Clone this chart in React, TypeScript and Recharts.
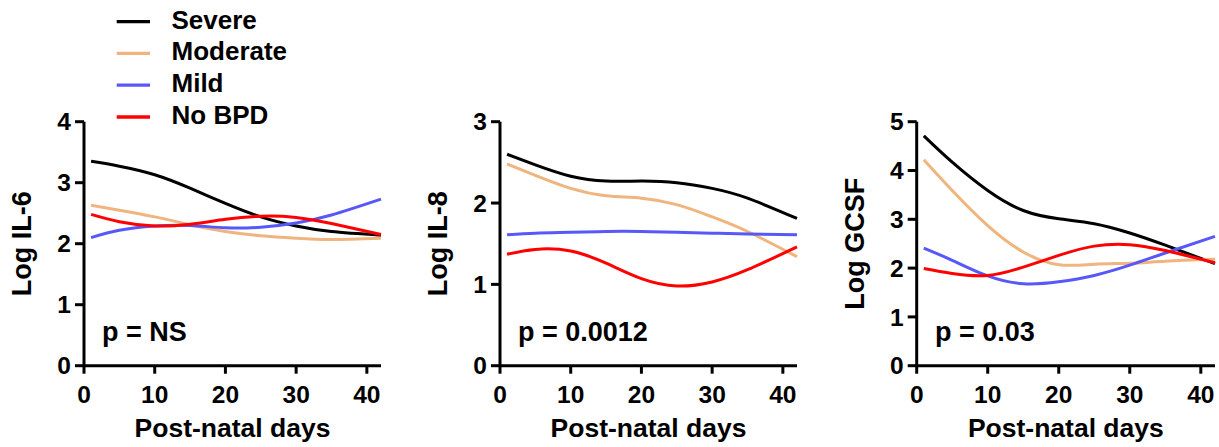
import React from 'react';
import { LineChart, Line, XAxis, YAxis } from 'recharts';

const FONT = '"Liberation Sans", Arial, Helvetica, sans-serif';

// ---- data ----
const days = [1, 5, 10, 15, 20, 25, 30, 35, 42];
const xTicks = [0, 10, 20, 30, 40];
const seriesKeys = ['severe', 'moderate', 'mild', 'nobpd'];
const seriesNames = ['Severe', 'Moderate', 'Mild', 'No BPD'];
const seriesColors = ['#000000', '#F0B47F', '#5858F8', '#FF0000'];

const il6Severe = [3.35, 3.27, 3.13, 2.91, 2.66, 2.44, 2.29, 2.2, 2.14];
const il6Moderate = [2.63, 2.55, 2.44, 2.31, 2.2, 2.13, 2.09, 2.07, 2.09];
const il6Mild = [2.1, 2.22, 2.29, 2.3, 2.26, 2.27, 2.34, 2.47, 2.73];
const il6NoBPD = [2.48, 2.36, 2.29, 2.32, 2.4, 2.45, 2.43, 2.33, 2.15];

const il8Severe = [2.6, 2.47, 2.33, 2.27, 2.27, 2.25, 2.18, 2.06, 1.81];
const il8Moderate = [2.48, 2.34, 2.18, 2.09, 2.06, 1.98, 1.83, 1.65, 1.34];
const il8Mild = [1.61, 1.63, 1.64, 1.65, 1.65, 1.64, 1.63, 1.62, 1.61];
const il8NoBPD = [1.37, 1.43, 1.41, 1.26, 1.07, 0.98, 1.03, 1.18, 1.46];

const gcsfSevere = [4.71, 4.17, 3.59, 3.18, 3.01, 2.91, 2.72, 2.47, 2.09];
const gcsfModerate = [4.22, 3.59, 2.87, 2.33, 2.07, 2.08, 2.1, 2.14, 2.18];
const gcsfMild = [2.41, 2.16, 1.84, 1.68, 1.72, 1.85, 2.06, 2.31, 2.65];
const gcsfNoBPD = [1.99, 1.89, 1.85, 2.02, 2.26, 2.45, 2.48, 2.36, 2.11];

const il6Ticks = [0, 1, 2, 3, 4];
const il8Ticks = [0, 1, 2, 3];
const gcsfTicks = [0, 1, 2, 3, 4, 5];

const yTitles = ['Log IL-6', 'Log IL-8', 'Log GCSF'];
const pTexts = ['p = NS', 'p = 0.0012', 'p = 0.03'];
const xTitle = 'Post-natal days';

function buildRows(cols: number[][]) {
  return days.map((d, i) => {
    const r: any = { day: d };
    seriesKeys.forEach((k, j) => {
      r[k] = cols[j][i];
    });
    return r;
  });
}

const il6Rows = buildRows([il6Severe, il6Moderate, il6Mild, il6NoBPD]);
const il8Rows = buildRows([il8Severe, il8Moderate, il8Mild, il8NoBPD]);
const gcsfRows = buildRows([gcsfSevere, gcsfModerate, gcsfMild, gcsfNoBPD]);

// ---- layout ----
const H = 447;
const PLOT_TOP = 121.7;
const PLOT_BOTTOM = 365.7;
const Y_AXIS_W = 60;
const X_AXIS_H = 60;
const TITLE_SIZE = 26.5;

const panels = [
  { chartLeft: 0, width: 400, axisX: 84, plotRight: 381, rows: il6Rows, ticks: il6Ticks, pX: 102 },
  { chartLeft: 410, width: 400, axisX: 500, plotRight: 797, rows: il8Rows, ticks: il8Ticks, pX: 518 },
  { chartLeft: 820, width: 399, axisX: 916.7, plotRight: 1215, rows: gcsfRows, ticks: gcsfTicks, pX: 935 },
];

const axisStyle = { stroke: '#000', strokeWidth: 3 };
const tickStyle = { fill: '#000', fontSize: 24.5, fontWeight: 700, fontFamily: FONT };

function Panel({ p }: { p: any }) {
  const yMax = p.ticks[p.ticks.length - 1];
  return (
    <div style={{ position: 'absolute', left: p.chartLeft, top: 0 }}>
      <LineChart
        width={p.width}
        height={H}
        data={p.rows}
        margin={{
          top: PLOT_TOP,
          bottom: H - PLOT_BOTTOM - X_AXIS_H,
          left: p.axisX - p.chartLeft - Y_AXIS_W,
          right: p.width - (p.plotRight - p.chartLeft),
        }}
      >
        <XAxis
          dataKey="day"
          type="number"
          domain={[0, 42]}
          ticks={xTicks}
          height={X_AXIS_H}
          tickSize={8}
          tickMargin={12}
          axisLine={axisStyle}
          tickLine={axisStyle}
          tick={tickStyle}
          interval={0}
        />
        <YAxis
          type="number"
          domain={[0, yMax]}
          ticks={p.ticks}
          width={Y_AXIS_W}
          tickSize={9}
          tickMargin={4}
          axisLine={axisStyle}
          tickLine={axisStyle}
          tick={tickStyle}
          interval={0}
        />
        {seriesKeys.map((k, j) => (
          <Line
            key={k}
            dataKey={k}
            name={seriesNames[j]}
            stroke={seriesColors[j]}
            strokeWidth={3}
            dot={false}
            activeDot={false}
            type="natural"
            isAnimationActive={false}
          />
        ))}
      </LineChart>
    </div>
  );
}

export default function App() {
  return (
    <div style={{ position: 'absolute', left: 0, top: 0, width: 1219, height: H, background: '#fff', overflow: 'hidden' }}>
      {panels.map((p, i) => (
        <Panel key={i} p={p} />
      ))}
      <svg
        width={1219}
        height={H}
        style={{ position: 'absolute', left: 0, top: 0, pointerEvents: 'none' }}
        fontFamily={FONT}
        fontWeight={700}
      >
        {/* legend */}
        {seriesNames.map((n, i) => {
          const y = 21.6 + 31.8 * i;
          return (
            <g key={n}>
              <line x1={116.7} x2={150} y1={y} y2={y} stroke={seriesColors[i]} strokeWidth={3.3} />
              <text x={171.5} y={y + 7} fontSize={26} fill="#000">
                {n}
              </text>
            </g>
          );
        })}
        {panels.map((p, i) => {
          const cy = (PLOT_TOP + PLOT_BOTTOM) / 2;
          const bx = p.axisX - 52.5;
          return (
            <g key={i}>
              <text
                x={bx}
                y={cy}
                fontSize={27}
                textAnchor="middle"
                fill="#000"
                transform={`rotate(-90 ${bx} ${cy})`}
              >
                {yTitles[i]}
              </text>
              <text x={(p.axisX + p.plotRight) / 2} y={437.3} fontSize={TITLE_SIZE} textAnchor="middle" fill="#000">
                {xTitle}
              </text>
              <text x={p.pX} y={341} fontSize={27} fill="#000">
                {pTexts[i]}
              </text>
            </g>
          );
        })}
      </svg>
    </div>
  );
}
